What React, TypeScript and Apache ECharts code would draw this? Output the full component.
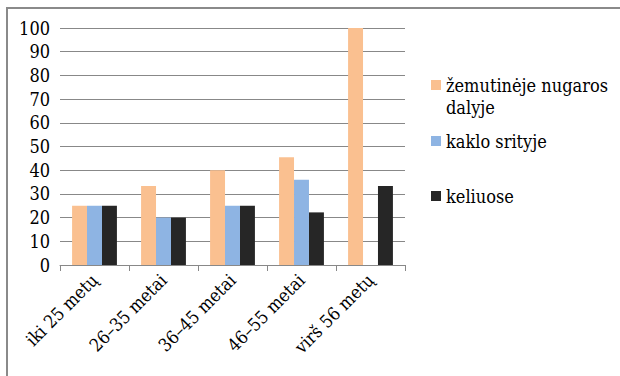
import React, { useEffect, useRef } from "react";
import * as echarts from "echarts";

const categories = ["iki 25 metų", "26–35 metai", "36–45 metai", "46–55 metai", "virš 56 metų"];
const seriesNames = ["žemutinėje nugaros dalyje", "kaklo srityje", "keliuose"];
const lowerBack = [25, 33.3, 40, 45.5, 100];
const neck = [25, 20, 25, 36, 0];
const knees = [25, 20, 25, 22.2, 33.3];
const colors = ["#FAC090", "#8EB4E3", "#262626"];
const yTicks = { min: 0, max: 100, interval: 10 };

const FONT = "DejaVu Serif Condensed";

export default function App() {
  const ref = useRef<HTMLDivElement>(null);
  useEffect(() => {
    document.body.style.margin = "0";
    const chart = echarts.init(ref.current!, null, { renderer: "svg" });
    const values = [lowerBack, neck, knees];
    const legendText = { fontFamily: FONT, fontSize: 18, color: "#000", lineHeight: 22 };
    chart.setOption({
      animation: false,
      backgroundColor: "#fff",
      textStyle: { fontFamily: FONT },
      graphic: [
        {
          type: "rect",
          shape: { x: 7, y: 8, width: 700, height: 500 },
          style: { fill: "none", stroke: "#8a8a8a", lineWidth: 2 },
          silent: true,
        },
      ],
      grid: { left: 60, right: 215, top: 28, bottom: 111, containLabel: false },
      legend: [
        {
          data: [seriesNames[0]],
          left: 431,
          top: 52,
          padding: 0,
          icon: "rect",
          itemWidth: 10,
          itemHeight: 10,
          formatter: () => " \nžemutinėje nugaros\ndalyje",
          textStyle: legendText,
        },
        {
          data: [seriesNames[1]],
          left: 431,
          top: 130,
          padding: 0,
          icon: "rect",
          itemWidth: 10,
          itemHeight: 10,
          textStyle: legendText,
        },
        {
          data: [seriesNames[2]],
          left: 431,
          top: 185,
          padding: 0,
          icon: "rect",
          itemWidth: 10,
          itemHeight: 10,
          textStyle: legendText,
        },
      ],
      xAxis: {
        type: "category",
        data: categories,
        axisLine: { lineStyle: { color: "#888", width: 1 } },
        axisTick: { show: true, length: 6, lineStyle: { color: "#888" } },
        axisLabel: {
          interval: 0,
          rotate: 45,
          margin: 12,
          fontSize: 18,
          fontFamily: FONT,
          color: "#000",
        },
      },
      yAxis: {
        type: "value",
        min: yTicks.min,
        max: yTicks.max,
        interval: yTicks.interval,
        axisLine: { show: false },
        axisTick: { show: false },
        splitLine: { lineStyle: { color: "#888", width: 1 } },
        axisLabel: { margin: 10, fontSize: 18, fontFamily: FONT, color: "#000" },
      },
      series: seriesNames.map((name, i) => ({
        name,
        type: "bar",
        data: values[i],
        barGap: "0%",
        barCategoryGap: "35%",
        itemStyle: { color: colors[i] },
      })),
    });
    return () => chart.dispose();
  }, []);
  return <div ref={ref} style={{ width: 620, height: 376 }} />;
}
